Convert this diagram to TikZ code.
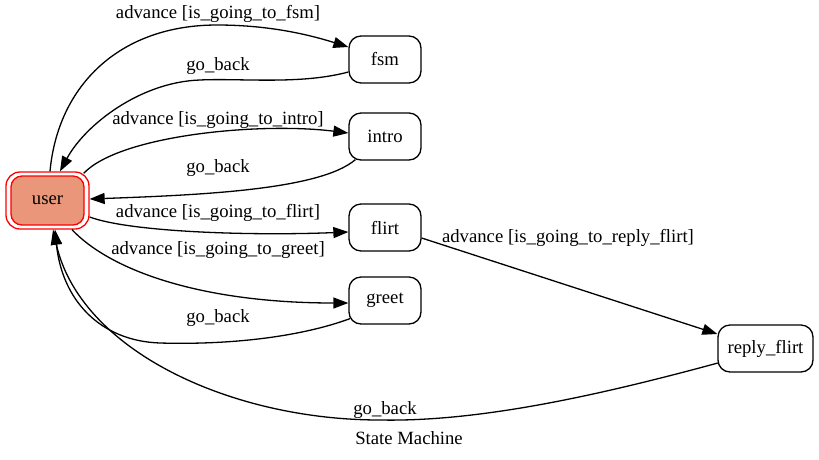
\documentclass[tikz,border=0pt]{standalone}
\usepackage{fontspec}
\setmainfont{Liberation Serif}
\usetikzlibrary{arrows.meta}
\begin{document}
\begin{tikzpicture}[x=1pt,y=-1pt,
  txt/.style={font=\fontsize{18.7}{20}\selectfont},
  state/.style={txt, draw, rounded corners=12pt, line width=1.3pt,
    minimum width=72pt, minimum height=47pt, inner sep=0pt},
  lbl/.style={txt, inner sep=0pt},
  trans/.style={line width=1.3pt, -{Triangle[length=15pt,width=11pt]}}]
\useasboundingbox (0,0) rectangle (819,459);

% states
\node[draw=red, line width=1.3pt, rounded corners=14pt,
      minimum width=83pt, minimum height=57pt] (user) at (47.5,200.5) {};
\node[txt, draw=red, fill={rgb,255:red,233;green,150;blue,122}, line width=1.3pt,
      rounded corners=11pt, minimum width=73pt, minimum height=49pt,
      inner sep=0pt] (userin) at (user.center) {user};
\node[state] (fsm)   at (385,59.5)  {fsm};
\node[state] (intro) at (385,136.5) {intro};
\node[state] (flirt) at (385,227.5) {flirt};
\node[state] (greet) at (385,300.5) {greet};
\node[state, minimum width=95pt] (rf) at (765.5,348.5) {reply\_flirt};

% transitions
\draw[trans] ([xshift=2.5pt]user.north) .. controls (58,85) and (120,25) .. (217,25)
  .. controls (270,25) and (310,35) .. ([yshift=12.5pt]fsm.west);
\draw[trans] ([yshift=-12.5pt]fsm.west) .. controls (300,85) and (240,78) .. (200,80)
  .. controls (140,82) and (85,125) .. ([xshift=12.5pt]user.north);
\draw[trans] ([xshift=-6pt,yshift=-2pt]user.north east) .. controls (120,135) and (260,122) .. ([yshift=3.5pt]intro.west);
\draw[trans] ([xshift=7pt,yshift=1pt]intro.south west) .. controls (320,190) and (200,195) .. ([yshift=1.5pt]user.east);
\draw[trans] ([yshift=-16.5pt]user.east) .. controls (130,232) and (250,236) .. ([yshift=-4.5pt]flirt.west);
\draw[trans] ([xshift=24.5pt]user.south) .. controls (110,270) and (200,303) .. ([yshift=-2.5pt]greet.west);
\draw[trans] ([xshift=1.6pt,yshift=6pt]greet.south west) .. controls (300,337) and (230,345) .. (160,343)
  .. controls (100,341) and (62,300) .. ([xshift=7.5pt]user.south);
\draw[trans] ([xshift=0.5pt,yshift=-14.5pt]rf.west) .. controls (600,395) and (480,422) .. (380,420)
  .. controls (230,420) and (80,350) .. ([xshift=5.5pt]user.south);
\draw[trans] ([yshift=-10.5pt]flirt.east) -- ([yshift=14.5pt]rf.west);

% transition labels
\node[lbl] (l1) at (218,14)  {advance [is\_going\_to\_fsm]};
\node[lbl] (l2) at (218,66)  {go\_back};
\node[lbl] (l3) at (218,120) {advance [is\_going\_to\_intro]};
\node[lbl] (l4) at (218,168) {go\_back};
\node[lbl] (l5) at (218,213) {advance [is\_going\_to\_flirt]};
\node[lbl] (l6) at (218,250) {advance [is\_going\_to\_greet]};
\node[lbl] (l7) at (218,318) {go\_back};
\node[lbl] (l8) at (568,238) {advance [is\_going\_to\_reply\_flirt]};
\node[lbl] (l9) at (385,410) {go\_back};

% graph title
\node[lbl] (title) at (409,438) {State Machine};
\end{tikzpicture}
\end{document}
